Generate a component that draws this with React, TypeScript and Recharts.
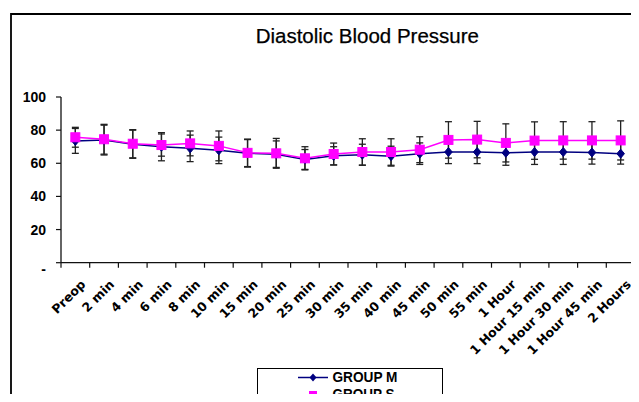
import React from 'react';
import { LineChart, Line, XAxis, YAxis, ErrorBar, Legend } from 'recharts';

const categories = [
  'Preop', '2 min', '4 min', '6 min', '8 min', '10 min', '15 min', '20 min', '25 min', '30 min',
  '35 min', '40 min', '45 min', '50 min', '55 min', '1 Hour', '1 Hour 15 min', '1 Hour 30 min',
  '1 Hour 45 min', '2 Hours',
];
const groupM = [73.5, 74, 71.5, 70, 69, 67.8, 66, 65.5, 62.3, 64.5, 65.2, 64.3, 65.8, 66.8, 66.8, 66.3, 66.8, 66.8, 66.5, 65.8];
const groupS = [75.7, 74.5, 71.8, 71, 72, 70.5, 66.3, 66, 63, 65.6, 66.8, 66.8, 68.2, 74.1, 74.3, 72.3, 73.7, 73.8, 73.8, 73.8];
const errorM = [7.5, 9, 8.5, 8.5, 8, 8, 8.3, 8, 6, 5.5, 6.3, 6, 6.5, 7, 7, 7.5, 7.5, 7.5, 7, 6.3];
const errorS = [6, 9, 8.5, 6.7, 7.5, 9, 8.3, 9, 7, 6.6, 8, 8, 7.8, 11, 11, 11.5, 11.3, 11.3, 11.3, 11.8];
const yTicks = [0, 20, 40, 60, 80, 100];
const yTickLabels = ['-', '20', '40', '60', '80', '100'];
const seriesNames = ['GROUP M', 'GROUP S'];
const title = 'Diastolic Blood Pressure';

const data = categories.map((c, i) => ({
  name: c,
  m: groupM[i],
  s: groupS[i],
  em: errorM[i],
  es: errorS[i],
}));

const W = 639;
const H = 402;
const MARGIN = { top: 97, right: 4, bottom: 109.3, left: 11 };
const Y_W = 50;
const X_H = 30;
const plotW = W - MARGIN.left - MARGIN.right - Y_W;
const plotH = H - MARGIN.top - MARGIN.bottom - X_H;
const axisY = MARGIN.top + plotH;
const halfStep = plotW / categories.length / 2;

const NAVY = '#000080';
const MAGENTA = '#FF00FF';
const AXIS = '#111';

const XTick = (props: any) => {
  const { x, payload, index } = props;
  const last = index === categories.length - 1;
  const ax = x + 11;
  const ay = axisY + 22.5;
  return (
    <g>
      <line x1={x - halfStep} x2={x - halfStep} y1={axisY} y2={axisY + 5} stroke={AXIS} strokeWidth={1.2} />
      {last && (
        <line x1={x + halfStep} x2={x + halfStep} y1={axisY} y2={axisY + 5} stroke={AXIS} strokeWidth={1.2} />
      )}
      <g transform={`translate(${ax},${ay}) rotate(-45)`}>
        <text
          x={0}
          y={0}
          textAnchor="end"
          fontFamily="DejaVu Sans"
          fontWeight="bold"
          fontSize={12.5}
          fill="#000"
        >
          {payload.value}
        </text>
      </g>
    </g>
  );
};

const YTick = (props: any) => {
  const { x, y, payload } = props;
  const idx = yTicks.indexOf(payload.value);
  const label = idx >= 0 ? yTickLabels[idx] : String(payload.value);
  return (
    <text
      x={x}
      y={y + (payload.value === 0 ? 6 : 0)}
      dy="0.355em"
      textAnchor="end"
      fontFamily="Liberation Sans, Arial"
      fontWeight="bold"
      fontSize={14}
      fill="#000"
    >
      {label}
    </text>
  );
};

const Diamond = (props: any) => {
  const { cx, cy } = props;
  if (cx == null || cy == null) return null;
  return <polygon points={`${cx},${cy - 4.5} ${cx + 3.8},${cy} ${cx},${cy + 4.5} ${cx - 3.8},${cy}`} fill={NAVY} stroke={NAVY} />;
};

const Square = (props: any) => {
  const { cx, cy } = props;
  if (cx == null || cy == null) return null;
  return <rect x={cx - 4.5} y={cy - 4.5} width={9} height={9} fill={MAGENTA} stroke={MAGENTA} />;
};

const legendFont = 'Liberation Sans Narrow, Liberation Sans, Arial';

const LegendBox = () => (
  <svg width={187} height={40} style={{ display: 'block', overflow: 'visible' }}>
    <rect x={0.5} y={0.5} width={185} height={60} fill="#fff" stroke="#000" strokeWidth={1} />
    <line x1={41} x2={71} y1={9.5} y2={9.5} stroke={NAVY} strokeWidth={1.5} />
    <polygon points="56,5.5 59.5,9.5 56,13.5 52.5,9.5" fill={NAVY} />
    <text x={75.5} y={13.5} fontFamily={legendFont} fontWeight="bold" fontSize={15} textLength={65} lengthAdjust="spacingAndGlyphs" fill="#000">
      {seriesNames[0]}
    </text>
    <line x1={41} x2={71} y1={27} y2={27} stroke={MAGENTA} strokeWidth={1.5} />
    <rect x={52} y={23} width={8} height={8} fill={MAGENTA} />
    <text x={75.5} y={31} fontFamily={legendFont} fontWeight="bold" fontSize={15} textLength={62} lengthAdjust="spacingAndGlyphs" fill="#000">
      {seriesNames[1]}
    </text>
  </svg>
);

export default function App() {
  return (
    <div style={{ margin: -8, width: W, height: H, position: 'relative', overflow: 'hidden', background: '#fff' }}>
      <svg width={W} height={H} style={{ position: 'absolute', left: 0, top: 0, pointerEvents: 'none' }}>
        <path d={`M 11 ${H + 5} L 11 14 L ${W + 5} 14`} fill="none" stroke="#000" strokeWidth={1.8} />
        <text x={367.3} y={43.3} textAnchor="middle" fontFamily="Liberation Sans, Arial" fontSize={20.5} fill="#000" stroke="#000" strokeWidth={0.25}>
          {title}
        </text>
      </svg>
      <div style={{ position: 'absolute', left: 0, top: 0 }}>
        <LineChart width={W} height={H} data={data} margin={MARGIN}>
          <XAxis
            dataKey="name"
            interval={0}
            height={X_H}
            padding={{ left: halfStep, right: halfStep }}
            tick={<XTick />}
            tickLine={false}
            tickSize={5}
            tickMargin={0}
            axisLine={{ stroke: AXIS, strokeWidth: 1.3 }}
          />
          <YAxis
            width={Y_W}
            domain={[0, 100]}
            ticks={yTicks}
            interval={0}
            tick={<YTick />}
            tickSize={5}
            tickMargin={10}
            tickLine={{ stroke: AXIS, strokeWidth: 1.2 }}
            axisLine={{ stroke: AXIS, strokeWidth: 1.3 }}
          />
          <Line
            dataKey="m"
            name={seriesNames[0]}
            stroke={NAVY}
            strokeWidth={1.5}
            dot={<Diamond />}
            isAnimationActive={false}
          >
            <ErrorBar dataKey="em" width={3.5} stroke="#222" strokeWidth={1.3} direction="y" />
          </Line>
          <Line
            dataKey="s"
            name={seriesNames[1]}
            stroke={MAGENTA}
            strokeWidth={1.5}
            dot={<Square />}
            isAnimationActive={false}
          >
            <ErrorBar dataKey="es" width={3.5} stroke="#222" strokeWidth={1.3} direction="y" />
          </Line>
          <Legend
            layout="vertical"
            align="center"
            verticalAlign="middle"
            content={<LegendBox />}
            wrapperStyle={{ position: 'absolute', left: 257, top: 368, width: 187, height: 40 }}
          />
        </LineChart>
      </div>
    </div>
  );
}
